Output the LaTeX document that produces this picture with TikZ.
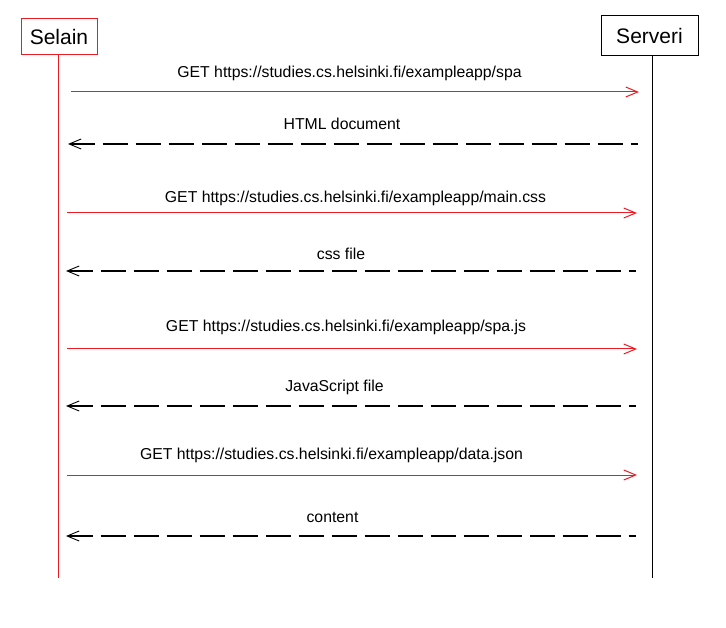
\documentclass[tikz,border=0pt]{standalone}
\usepackage{fontspec}
\setmainfont{Liberation Sans}
\usetikzlibrary{arrows.meta}
\definecolor{seqred}{RGB}{237,28,36}
\begin{document}
\begin{tikzpicture}[x=1pt,y=-1pt,
  actor/.style={draw, line width=1pt, inner sep=0pt, font=\fontsize{21}{24}\selectfont, fill=white},
  req/.style={draw=seqred, line width=1pt, -{Straight Barb[length=12pt,width=10pt]}},
  resp/.style={draw=black, line width=1.1pt, dash pattern=on 25pt off 8pt, {Straight Barb[length=12pt,width=10pt,line width=0.9pt]}-},
  lbl/.style={font=\fontsize{15.8}{18}\selectfont, inner sep=0pt},
  life/.style={line width=1pt}]
\useasboundingbox (0,0) rectangle (726,628);
% actors
\node[actor, draw=seqred, minimum width=76pt, minimum height=36pt] (selain) at (59,37) {Selain};
\node[actor, minimum width=97pt, minimum height=40pt] (serveri) at (649.5,36) {Serveri};
\coordinate (selainEnd) at (58,578);
\coordinate (serveriEnd) at (652,578);
\draw[life, seqred] (selainEnd |- selain.south) -- (selainEnd);
\draw[life] (serveriEnd |- serveri.south) -- (serveriEnd);
% message end points
\coordinate (b1) at (71,92);   \coordinate (s1) at (639,92);
\coordinate (b2) at (68,144);  \coordinate (s2) at (638,144);
\coordinate (b3) at (67,213);  \coordinate (s3) at (637,213);
\coordinate (b4) at (66,271);  \coordinate (s4) at (636,271);
\coordinate (b5) at (67,349);  \coordinate (s5) at (637,349);
\coordinate (b6) at (66,406);  \coordinate (s6) at (636,406);
\coordinate (b7) at (67,475);  \coordinate (s7) at (637,475);
\coordinate (b8) at (66,536);  \coordinate (s8) at (636,536);
% messages
\draw[req] (b1) -- (s1);
\draw[resp] (b2) -- (s2);
\draw[req] (b3) -- (s3);
\draw[resp] (b4) -- (s4);
\draw[req] (b5) -- (s5);
\draw[resp] (b6) -- (s6);
\draw[req] (b7) -- (s7);
\draw[resp] (b8) -- (s8);
% labels
\node[lbl] (l1) at (349.5,73) {GET https://studies.cs.helsinki.fi/exampleapp/spa};
\node[lbl] (l2) at (342,124) {HTML document};
\node[lbl] (l3) at (355.5,198) {GET https://studies.cs.helsinki.fi/exampleapp/main.css};
\node[lbl] (l4) at (341,254) {css file};
\node[lbl] (l5) at (346,327.5) {GET https://studies.cs.helsinki.fi/exampleapp/spa.js};
\node[lbl] (l6) at (334.5,387) {JavaScript file};
\node[lbl] (l7) at (331.5,455) {GET https://studies.cs.helsinki.fi/exampleapp/data.json};
\node[lbl] (l8) at (332.5,517) {content};
\end{tikzpicture}
\end{document}
